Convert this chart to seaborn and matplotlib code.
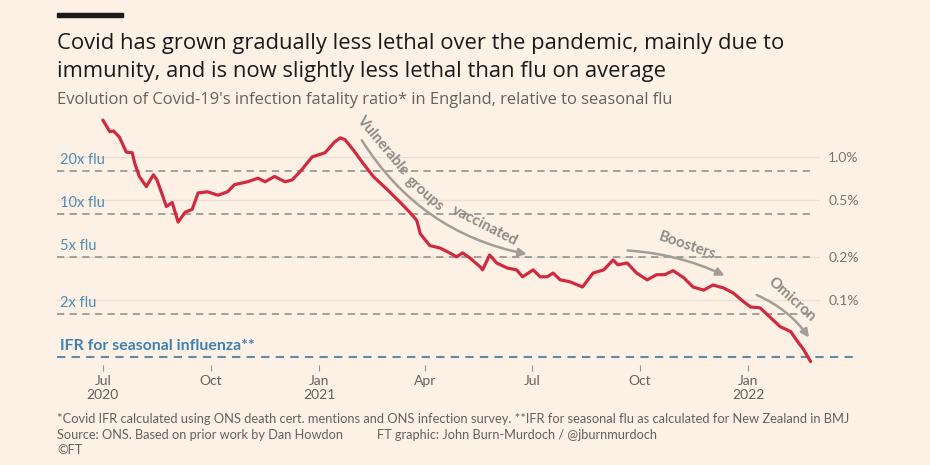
import pandas as pd
import matplotlib.pyplot as plt
import matplotlib.transforms as mtransforms
from matplotlib.patches import Rectangle
import seaborn as sns

# Covid IFR (%) in England
dates = ["2020-07-01", "2020-07-07", "2020-07-10", "2020-07-15", "2020-07-21", "2020-07-26",
         "2020-07-28", "2020-08-01", "2020-08-07", "2020-08-13", "2020-08-16", "2020-08-20",
         "2020-08-24", "2020-08-29", "2020-09-03", "2020-09-09", "2020-09-15", "2020-09-20",
         "2020-09-28", "2020-10-07", "2020-10-15", "2020-10-21", "2020-11-01", "2020-11-10",
         "2020-11-16", "2020-11-24", "2020-12-03", "2020-12-09", "2020-12-17", "2020-12-26",
         "2021-01-06", "2021-01-14", "2021-01-19", "2021-01-23", "2021-01-30", "2021-02-07",
         "2021-02-16", "2021-02-28", "2021-03-11", "2021-03-19", "2021-03-25", "2021-03-28",
         "2021-04-05", "2021-04-14", "2021-04-22", "2021-04-28", "2021-05-03", "2021-05-09",
         "2021-05-18", "2021-05-20", "2021-05-26", "2021-06-01", "2021-06-10", "2021-06-18",
         "2021-06-23", "2021-07-02", "2021-07-08", "2021-07-14", "2021-07-19", "2021-07-25",
         "2021-08-02", "2021-08-13", "2021-08-22", "2021-08-31", "2021-09-08", "2021-09-12",
         "2021-09-20", "2021-09-28", "2021-10-07", "2021-10-15", "2021-10-22", "2021-10-29",
         "2021-11-07", "2021-11-15", "2021-11-24", "2021-12-02", "2021-12-11", "2021-12-19",
         "2021-12-28", "2022-01-03", "2022-01-11", "2022-01-20", "2022-01-28", "2022-02-06",
         "2022-02-12", "2022-02-17", "2022-02-23"]
ifr = [1.81, 1.50, 1.52, 1.38, 1.08, 1.07,
       0.91, 0.73, 0.62, 0.75, 0.69, 0.56,
       0.45, 0.48, 0.35, 0.41, 0.43, 0.56,
       0.57, 0.54, 0.57, 0.64, 0.67, 0.71,
       0.67, 0.73, 0.67, 0.69, 0.81, 1.00,
       1.07, 1.27, 1.36, 1.32, 1.12, 0.91,
       0.73, 0.59, 0.48, 0.41, 0.36, 0.29,
       0.24, 0.23, 0.213, 0.200, 0.213, 0.197,
       0.170, 0.162, 0.206, 0.181, 0.167, 0.162,
       0.145, 0.162, 0.145, 0.145, 0.154, 0.138,
       0.134, 0.123, 0.154, 0.162, 0.190, 0.176,
       0.181, 0.154, 0.138, 0.150, 0.150, 0.160,
       0.143, 0.123, 0.117, 0.127, 0.121, 0.112,
       0.097, 0.089, 0.088, 0.075, 0.065, 0.060,
       0.051, 0.045, 0.037]

flu_ifr = 0.04
flu_multiples = [20, 10, 5, 2]
pct_ticks = [1.0, 0.5, 0.2, 0.1]
pct_labels = ["1.0%", "0.5%", "0.2%", "0.1%"]
month_ticks = ["2020-07-01", "2020-10-01", "2021-01-01", "2021-04-01",
               "2021-07-01", "2021-10-01", "2022-01-01"]
month_labels = ["Jul\n2020", "Oct", "Jan\n2021", "Apr", "Jul", "Oct", "Jan\n2022"]

df = pd.DataFrame({"date": pd.to_datetime(dates), "ifr": ifr})

bg = "#fdf1e6"
grey = "#66605c"
blue = "#4f8cb6"
arrow_grey = "#a39d98"
note_grey = "#8e8985"

sns.set_theme(style="white")
plt.rcParams["font.family"] = ["Lato", "DejaVu Sans"]

fig = plt.figure(figsize=(9.3, 4.65), dpi=100, facecolor=bg)
ax = fig.add_axes([57 / 930, 1 - 365 / 465, 763 / 930, 255 / 465], facecolor=bg)

ax.set_yscale("log")
ax.set_ylim(0.035, 2.13)
ax.set_xlim(pd.Timestamp("2020-05-23"), pd.Timestamp("2022-03-03"))

# faint % gridlines
for v in pct_ticks:
    ax.axhline(v, color="#ebdfd4", lw=1, zorder=0)

# flu multiple reference lines
blend = mtransforms.blended_transform_factory(ax.transAxes, ax.transData)
for m in flu_multiples:
    ax.axhline(flu_ifr * m, xmin=0, xmax=0.99, color="#9c9996", lw=1.3,
               ls=(0, (4, 3)), zorder=1)
    ax.annotate(f"{m}x flu", xy=(0.004, flu_ifr * m), xycoords=blend,
                xytext=(0, 3), textcoords="offset points", va="bottom",
                ha="left", color=blue, fontsize=10.5)
ax.axhline(flu_ifr, xmin=0, xmax=1.05, color="#5f8aa8", lw=1.5,
           ls=(0, (4, 3)), zorder=1, clip_on=False)
ax.annotate("IFR for seasonal influenza**", xy=(0.004, flu_ifr), xycoords=blend,
            xytext=(0, 3), textcoords="offset points", va="bottom", ha="left",
            color="#3f82b2", fontsize=11.4, fontweight="bold")

sns.lineplot(data=df, x="date", y="ifr", ax=ax, color="#cf2a3e", lw=2.3, zorder=3)

# axes styling
for s in ax.spines.values():
    s.set_visible(False)
ax.set_xlabel("")
ax.set_ylabel("")
ax.yaxis.tick_right()
ax.set_yticks(pct_ticks)
ax.set_yticklabels(pct_labels)
ax.yaxis.set_minor_locator(plt.NullLocator())
ax.tick_params(axis="y", length=0, pad=6, labelsize=10, labelcolor="#7a736e")
ax.set_xticks(pd.to_datetime(month_ticks))
ax.set_xticklabels(month_labels)
ax.xaxis.set_minor_locator(plt.NullLocator())
ax.tick_params(axis="x", length=4, width=0.8, color="#999390", pad=3,
               labelsize=10, labelcolor=grey, bottom=True)

# annotations
words = [("Vulnerable", "2021-02-24", 1.20, -50),
         ("groups", "2021-04-01", 0.555, -41),
         ("vaccinated", "2021-05-22", 0.33, -27)]
for w, d, v, rot in words:
    ax.text(pd.Timestamp(d), v, w, rotation=rot, rotation_mode="anchor",
            ha="center", va="center", color=note_grey, fontsize=10.8,
            fontweight="bold")

arrows = [("2021-02-05", 1.36, "2021-06-29", 0.207, 0.22),
          ("2021-09-18", 0.222, "2021-12-14", 0.145, -0.1),
          ("2022-01-06", 0.110, "2022-02-23", 0.0525, -0.15)]
for d0, v0, d1, v1, rad in arrows:
    ax.annotate("", xy=(pd.Timestamp(d1), v1), xytext=(pd.Timestamp(d0), v0),
                arrowprops=dict(arrowstyle="-|>", color=arrow_grey, lw=1.8,
                                mutation_scale=12,
                                connectionstyle=f"arc3,rad={rad}"))
ax.text(pd.Timestamp("2021-11-10"), 0.237, "Boosters", rotation=-19,
        ha="center", va="center", color=note_grey, fontsize=10.8, fontweight="bold")
ax.text(pd.Timestamp("2022-02-07"), 0.1, "Omicron", rotation=-42,
        ha="center", va="center", color=note_grey, fontsize=10.8, fontweight="bold")

# header and footer
fig.add_artist(Rectangle((57 / 930, 1 - 17 / 465), 66 / 930, 4 / 465,
                         transform=fig.transFigure, color="#1a1a1a"))
fig.text(57 / 930, 1 - 44 / 465,
         "Covid has grown gradually less lethal over the pandemic, mainly due to",
         fontsize=15.8, color="#1a1a1a", va="center", family="Open Sans")
fig.text(57 / 930, 1 - 72 / 465,
         "immunity, and is now slightly less lethal than flu on average",
         fontsize=15.8, color="#1a1a1a", va="center", family="Open Sans")
fig.text(57 / 930, 1 - 100 / 465,
         "Evolution of Covid-19's infection fatality ratio* in England, relative to seasonal flu",
         fontsize=11.9, color=grey, va="center", family="Open Sans")
fig.text(57 / 930, 1 - 419 / 465,
         "*Covid IFR calculated using ONS death cert. mentions and ONS infection survey. "
         "**IFR for seasonal flu as calculated for New Zealand in BMJ",
         fontsize=9.3, color=grey, va="center")
fig.text(57 / 930, 1 - 435 / 465, "Source: ONS. Based on prior work by Dan Howdon",
         fontsize=9.2, color=grey, va="center")
fig.text(377 / 930, 1 - 435 / 465, "FT graphic: John Burn-Murdoch / @jburnmurdoch",
         fontsize=9.2, color=grey, va="center")
fig.text(57 / 930, 1 - 450 / 465, "\u00a9FT", fontsize=9.2, color=grey, va="center")

fig.savefig("out.png", dpi=100, facecolor=bg)
